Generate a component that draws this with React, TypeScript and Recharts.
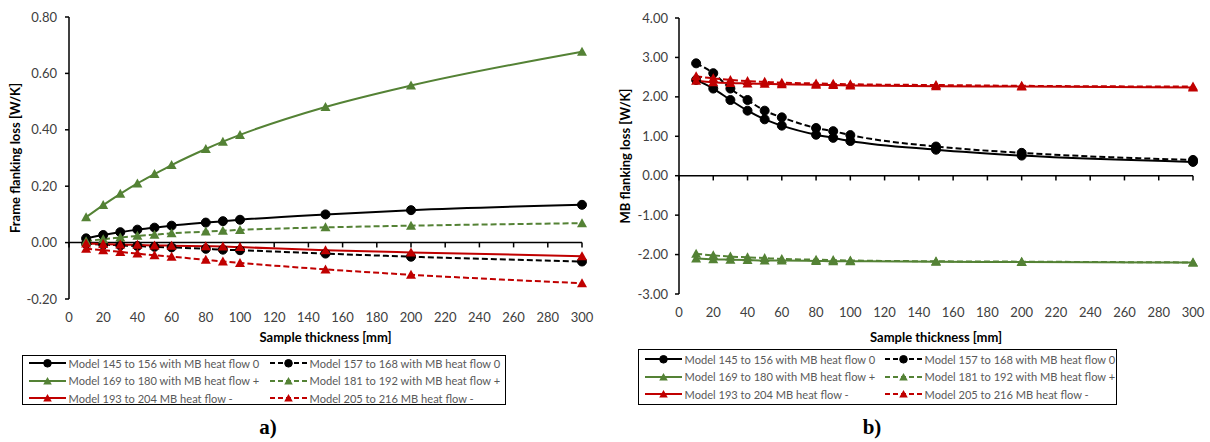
import { LineChart, Line, XAxis, YAxis, ReferenceLine, Label } from 'recharts';

// sample thickness [mm]
const thickness = [10, 20, 30, 40, 50, 60, 80, 90, 100, 150, 200, 300];
const xTicks = [0, 20, 40, 60, 80, 100, 120, 140, 160, 180, 200, 220, 240, 260, 280, 300];

// a) frame flanking loss [W/K]
const frame145 = [0.015, 0.027, 0.037, 0.046, 0.053, 0.06, 0.071, 0.076, 0.081, 0.1, 0.115, 0.134];
const frame157 = [-0.004, -0.007, -0.01, -0.012, -0.015, -0.017, -0.022, -0.025, -0.027, -0.039, -0.05, -0.067];
const frame169 = [0.09, 0.133, 0.173, 0.21, 0.243, 0.275, 0.332, 0.358, 0.382, 0.481, 0.557, 0.677];
const frame181 = [0.005, 0.012, 0.018, 0.024, 0.028, 0.033, 0.039, 0.042, 0.045, 0.054, 0.06, 0.069];
const frame193 = [-0.003, -0.005, -0.007, -0.008, -0.01, -0.011, -0.013, -0.014, -0.016, -0.027, -0.035, -0.048];
const frame205 = [-0.022, -0.027, -0.033, -0.039, -0.045, -0.05, -0.061, -0.067, -0.072, -0.095, -0.114, -0.144];
const frameTicks = [-0.2, 0, 0.2, 0.4, 0.6, 0.8];

// b) MB flanking loss [W/K]
const mb145 = [2.43, 2.21, 1.92, 1.65, 1.43, 1.27, 1.04, 0.96, 0.88, 0.66, 0.51, 0.35];
const mb157 = [2.85, 2.6, 2.21, 1.92, 1.65, 1.48, 1.21, 1.13, 1.03, 0.74, 0.58, 0.4];
const mb169 = [-2.1, -2.12, -2.13, -2.14, -2.15, -2.15, -2.16, -2.17, -2.17, -2.18, -2.19, -2.2];
const mb181 = [-1.98, -2.02, -2.05, -2.07, -2.09, -2.11, -2.13, -2.14, -2.15, -2.17, -2.18, -2.2];
const mb193 = [2.41, 2.37, 2.35, 2.34, 2.33, 2.32, 2.31, 2.3, 2.29, 2.27, 2.26, 2.24];
const mb205 = [2.52, 2.47, 2.43, 2.4, 2.38, 2.36, 2.34, 2.33, 2.32, 2.3, 2.28, 2.26];
const mbTicks = [-3, -2, -1, 0, 1, 2, 3, 4];

const BLACK = '#000000';
const GREEN = '#548235';
const RED = '#C00000';
const FONT = 'Lato, "Open Sans", sans-serif';

type Series = { key: string; name: string; color: string; dashed: boolean; marker: 'circle' | 'triangle' };

const series: Series[] = [
  { key: 's145', name: 'Model 145 to 156 with MB heat flow 0', color: BLACK, dashed: false, marker: 'circle' },
  { key: 's157', name: 'Model 157 to 168 with MB heat flow 0', color: BLACK, dashed: true, marker: 'circle' },
  { key: 's169', name: 'Model 169 to 180 with MB heat flow +', color: GREEN, dashed: false, marker: 'triangle' },
  { key: 's181', name: 'Model 181 to 192 with MB heat flow +', color: GREEN, dashed: true, marker: 'triangle' },
  { key: 's193', name: 'Model 193 to 204 MB heat flow -', color: RED, dashed: false, marker: 'triangle' },
  { key: 's205', name: 'Model 205 to 216 MB heat flow -', color: RED, dashed: true, marker: 'triangle' },
];

const frameData = thickness.map((t, i) => ({
  t,
  s145: frame145[i],
  s157: frame157[i],
  s169: frame169[i],
  s181: frame181[i],
  s193: frame193[i],
  s205: frame205[i],
}));

const mbData = thickness.map((t, i) => ({
  t,
  s145: mb145[i],
  s157: mb157[i],
  s169: mb169[i],
  s181: mb181[i],
  s193: mb193[i],
  s205: mb205[i],
}));

const Marker = ({ cx, cy, shape, color, r = 4.5 }: { cx: number; cy: number; shape: string; color: string; r?: number }) => {
  if (shape === 'circle') return <circle cx={cx} cy={cy} r={r} fill={color} stroke={color} />;
  return <polygon points={`${cx},${cy - r - 0.5} ${cx + r + 0.5},${cy + r - 0.5} ${cx - r - 0.5},${cy + r - 0.5}`} fill={color} />;
};

const makeDot = (s: Series) => (props: any) => {
  const { cx, cy, index } = props;
  if (cx == null || cy == null) return <g key={index} />;
  return (
    <g key={index}>
      <Marker cx={cx} cy={cy} shape={s.marker} color={s.color} />
    </g>
  );
};

type PanelProps = {
  data: any[];
  yTicks: number[];
  yTitle: string;
  width: number;
  height: number;
  margin: { top: number; right: number; left: number; bottom: number };
  yAxisWidth: number;
  yTickMargin: number;
  xAxisHeight: number;
  yTitleOffset: number;
  zeroTick: number;
};

const Panel = ({ data, yTicks, yTitle, width, height, margin, yAxisWidth, yTickMargin, xAxisHeight, yTitleOffset, zeroTick }: PanelProps) => (
  <LineChart width={width} height={height} data={data} margin={margin}>
    <XAxis
      dataKey="t"
      type="number"
      domain={[0, 300]}
      ticks={xTicks}
      interval={0}
      axisLine={false}
      tickLine={false}
      tickSize={0}
      tickMargin={14}
      height={xAxisHeight}
      tick={{ fill: '#404040', fontSize: 13, fontFamily: FONT }}>
      <Label
        value="Sample thickness [mm]"
        position="insideBottom"
        offset={8}
        style={{ fill: '#000', fontSize: 13, fontWeight: 700, fontFamily: FONT }}
      />
    </XAxis>
    <YAxis
      type="number"
      domain={[yTicks[0], yTicks[yTicks.length - 1]]}
      ticks={yTicks}
      interval={0}
      width={yAxisWidth}
      tickSize={4}
      tickMargin={yTickMargin}
      tickFormatter={(v: number) => v.toFixed(2)}
      axisLine={{ stroke: '#000', strokeWidth: 1.5 }}
      tickLine={{ stroke: '#000', strokeWidth: 1.5 }}
      tick={{ fill: '#404040', fontSize: 13, fontFamily: FONT }}>
      <Label
        value={yTitle}
        angle={-90}
        position="insideLeft"
        offset={yTitleOffset}
        style={{ textAnchor: 'middle', fill: '#000', fontSize: 13, fontWeight: 700, fontFamily: FONT }}
      />
    </YAxis>
    <ReferenceLine y={0} stroke="#000" strokeWidth={1.5} />
    {xTicks.map((t) => (
      <ReferenceLine
        key={t}
        segment={[
          { x: t, y: 0 },
          { x: t, y: -zeroTick },
        ]}
        stroke="#000"
        strokeWidth={1.5}
      />
    ))}
    {series.map((s) => (
      <Line
        key={s.key}
        dataKey={s.key}
        name={s.name}
        type="monotone"
        stroke={s.color}
        strokeWidth={2}
        strokeDasharray={s.dashed ? '6 3' : undefined}
        dot={makeDot(s)}
        activeDot={false}
        isAnimationActive={false}
      />
    ))}
  </LineChart>
);

const LegendSample = ({ s }: { s: Series }) => (
  <svg width={37} height={12} style={{ display: 'block', flex: 'none' }}>
    <line x1={0} y1={6} x2={37} y2={6} stroke={s.color} strokeWidth={2} strokeDasharray={s.dashed ? '5 3' : undefined} />
    <Marker cx={18.5} cy={6.3} shape={s.marker} color={s.color} r={3.8} />
  </svg>
);

type LegendBoxProps = { left: number; top: number; width: number; height: number; col1: number; col2: number; rowTop: number };

const LegendBox = ({ left, top, width, height, col1, col2, rowTop }: LegendBoxProps) => (
  <div
    style={{
      position: 'absolute',
      left,
      top,
      width,
      height,
      border: '1.5px solid #000',
      boxSizing: 'border-box',
      fontFamily: FONT,
      fontSize: 11.1,
      color: '#595959',
    }}>
    {[0, 1, 2].map((row) =>
      [0, 1].map((col) => {
        const s = series[row * 2 + col];
        return (
          <div
            key={s.key}
            style={{
              position: 'absolute',
              left: col === 0 ? col1 : col2,
              top: rowTop + row * 17.5,
              height: 17,
              display: 'flex',
              alignItems: 'center',
              whiteSpace: 'nowrap',
              gap: 3,
            }}>
            <LegendSample s={s} />
            <span>{s.name}</span>
          </div>
        );
      })
    )}
  </div>
);

const Caption = ({ x, text }: { x: number; text: string }) => (
  <div
    style={{
      position: 'absolute',
      left: x - 30,
      width: 60,
      top: 415,
      textAlign: 'center',
      fontFamily: '"Liberation Serif", serif',
      fontWeight: 700,
      fontSize: 21,
      color: '#000',
    }}>
    {text}
  </div>
);

export default function App() {
  return (
    <div style={{ position: 'absolute', left: 0, top: 0, width: 1210, height: 442, background: '#fff', overflow: 'hidden' }}>
      <div style={{ position: 'absolute', left: 0, top: 0 }}>
        <Panel
          data={frameData}
          yTicks={frameTicks}
          yTitle="Frame flanking loss [W/K]"
          width={605}
          height={350}
          margin={{ top: 17, right: 23, left: 0, bottom: 0 }}
          yAxisWidth={69}
          yTickMargin={8}
          xAxisHeight={51}
          yTitleOffset={15}
          zeroTick={0.017}
        />
      </div>
      <div style={{ position: 'absolute', left: 605, top: 0 }}>
        <Panel
          data={mbData}
          yTicks={mbTicks}
          yTitle="MB flanking loss [W/K]"
          width={605}
          height={350}
          margin={{ top: 18, right: 17, left: 0, bottom: 0 }}
          yAxisWidth={74}
          yTickMargin={7}
          xAxisHeight={56}
          yTitleOffset={20}
          zeroTick={0.12}
        />
      </div>
      <LegendBox left={22} top={355} width={484} height={50} col1={5.5} col2={246.5} rowTop={-1.5} />
      <LegendBox left={638} top={349} width={479} height={56} col1={5.5} col2={245.5} rowTop={0.7} />
      <Caption x={268} text="a)" />
      <Caption x={872} text="b)" />
    </div>
  );
}
